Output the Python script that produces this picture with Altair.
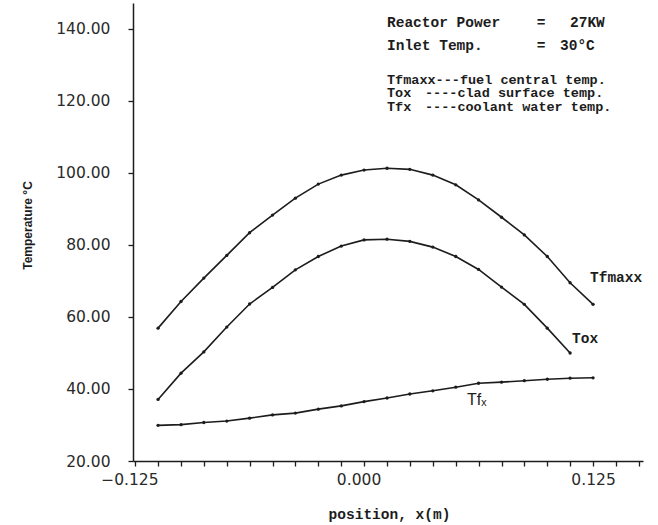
import altair as alt
import pandas as pd

# Axial positions of the calculation nodes (m)
position = [-0.125, -0.1118, -0.0987, -0.0855, -0.0724, -0.0592, -0.0461, -0.0329,
            -0.0197, -0.0066, 0.0066, 0.0197, 0.0329, 0.0461, 0.0592, 0.0724,
            0.0855, 0.0987, 0.1118, 0.125]

# Fuel central temperature (deg C)
tfmaxx = [56.9, 64.3, 70.8, 77.1, 83.4, 88.3, 93.0, 96.9, 99.4, 100.8,
          101.3, 101.0, 99.4, 96.7, 92.5, 87.7, 82.8, 76.8, 69.5, 63.5]
# Clad surface temperature (deg C)
tox = [37.1, 44.4, 50.3, 57.2, 63.6, 68.2, 73.1, 76.8, 79.7, 81.4,
       81.6, 81.0, 79.4, 76.8, 73.2, 68.3, 63.5, 56.9, 50.0]
# Coolant water temperature (deg C)
tfx = [29.9, 30.1, 30.7, 31.1, 31.9, 32.8, 33.3, 34.4, 35.3, 36.5,
       37.5, 38.6, 39.5, 40.5, 41.6, 41.9, 42.3, 42.7, 43.0, 43.1]

x_labels = [-0.125, 0.0, 0.125]
x_minor = [-0.1382] + position + [0.1382, 0.1513]
y_ticks = [20, 40, 60, 80, 100, 120, 140]

rows = []
for name, values in (("Tfmaxx", tfmaxx), ("Tox", tox), ("Tfx", tfx)):
    for p, t in zip(position, values):
        rows.append({"series": name, "position": p, "temp": t})
df = pd.DataFrame(rows)

INK = "#1c1c1c"
MONO = "Liberation Mono"
SANS = "DejaVu Sans"

x_scale = alt.Scale(domain=[-0.1394, 0.1537], nice=False, zero=False)
y_scale = alt.Scale(domain=[20, 147.2], nice=False, zero=False)

lines = alt.Chart(df).mark_line(color=INK, strokeWidth=1.6).encode(
    x=alt.X(
        "position:Q", scale=x_scale,
        axis=alt.Axis(
            orient="bottom", values=x_labels, format=".3f", ticks=False, tickSize=0,
            grid=False, labelPadding=11, labelFont=SANS, labelFontSize=15.5,
            labelColor="#2a2a2a",
            labelAlign={"condition": {"test": "datum.value < -0.1", "value": "right"},
                        "value": "center"},
            labelOffset={"condition": {"test": "abs(datum.value) < 0.01", "value": -17},
                         "value": 0},
            domainColor=INK, domainWidth=1.5,
            title="position, x(m)", titleFont=MONO, titleFontSize=14.5,
            titleFontWeight="bold", titleColor=INK, titleX=256, titleY=57,
            titleAlign="center", titleBaseline="alphabetic",
        ),
    ),
    y=alt.Y(
        "temp:Q", scale=y_scale,
        axis=alt.Axis(
            values=y_ticks, format=".2f", grid=False, tickSize=5, tickWidth=1.3,
            tickColor=INK, labelPadding=18, labelFont=SANS, labelFontSize=15.5,
            labelColor="#2a2a2a", domainColor=INK, domainWidth=1.5,
            title="Temperature °C", titleFont="Liberation Sans", titleFontSize=12,
            titleFontWeight="bold", titleColor=INK, titleX=-106, titleY=222,
            titleAngle=-90, titleAlign="center", titleBaseline="middle",
        ),
    ),
    detail="series:N",
)

dots = alt.Chart(df).mark_circle(color=INK, size=11, opacity=1).encode(
    x=alt.X(
        "position:Q", scale=x_scale,
        axis=alt.Axis(
            orient="bottom", values=x_minor, labels=False, domain=False, grid=False,
            ticks=True, tickSize=5, tickWidth=1.3, tickColor=INK, title=None,
        ),
    ),
    y=alt.Y("temp:Q", scale=y_scale, axis=None),
)

one_row = pd.DataFrame({"k": [0]})


def label(text, x, y, font=MONO, size=14.5, weight="bold", align="left"):
    return alt.Chart(one_row).mark_text(
        text=text, font=font, fontSize=size, fontWeight=weight, align=align,
        baseline="alphabetic", color=INK,
    ).encode(x=alt.value(x), y=alt.value(y))


# Run information and curve key in typewriter style
KEY = 13.5
texts = [
    label("Reactor Power", 254, 24),
    label("=", 408, 24, align="center"),
    label("27KW", 437, 24),
    label("Inlet Temp.", 254, 47),
    label("=", 408, 47, align="center"),
    label("30°C", 427, 47),
    label("Tfmaxx---fuel central temp.", 254, 80.5, size=KEY),
    label("Tox", 254, 94, size=KEY),
    label("----clad surface temp.", 292, 94, size=KEY),
    label("Tfx", 254, 107.5, size=KEY),
    label("----coolant water temp.", 292, 107.5, size=KEY),
    label("Tfmaxx", 457, 279),
    label("Tox", 439, 340),
    label("Tfₓ", 334, 402, font="Liberation Sans", size=16, weight="normal"),
]

chart = (
    alt.layer(lines, dots, *texts)
    .resolve_axis(x="independent", y="independent")
    .properties(
        width=510, height=458,
        autosize=alt.AutoSizeParams(type="none"),
        padding={"left": 133, "top": 3, "right": 15, "bottom": 64},
        background="white",
    )
    .configure_view(stroke=None)
)

chart.save("out.html", embed_options={"renderer": "svg", "actions": False})
